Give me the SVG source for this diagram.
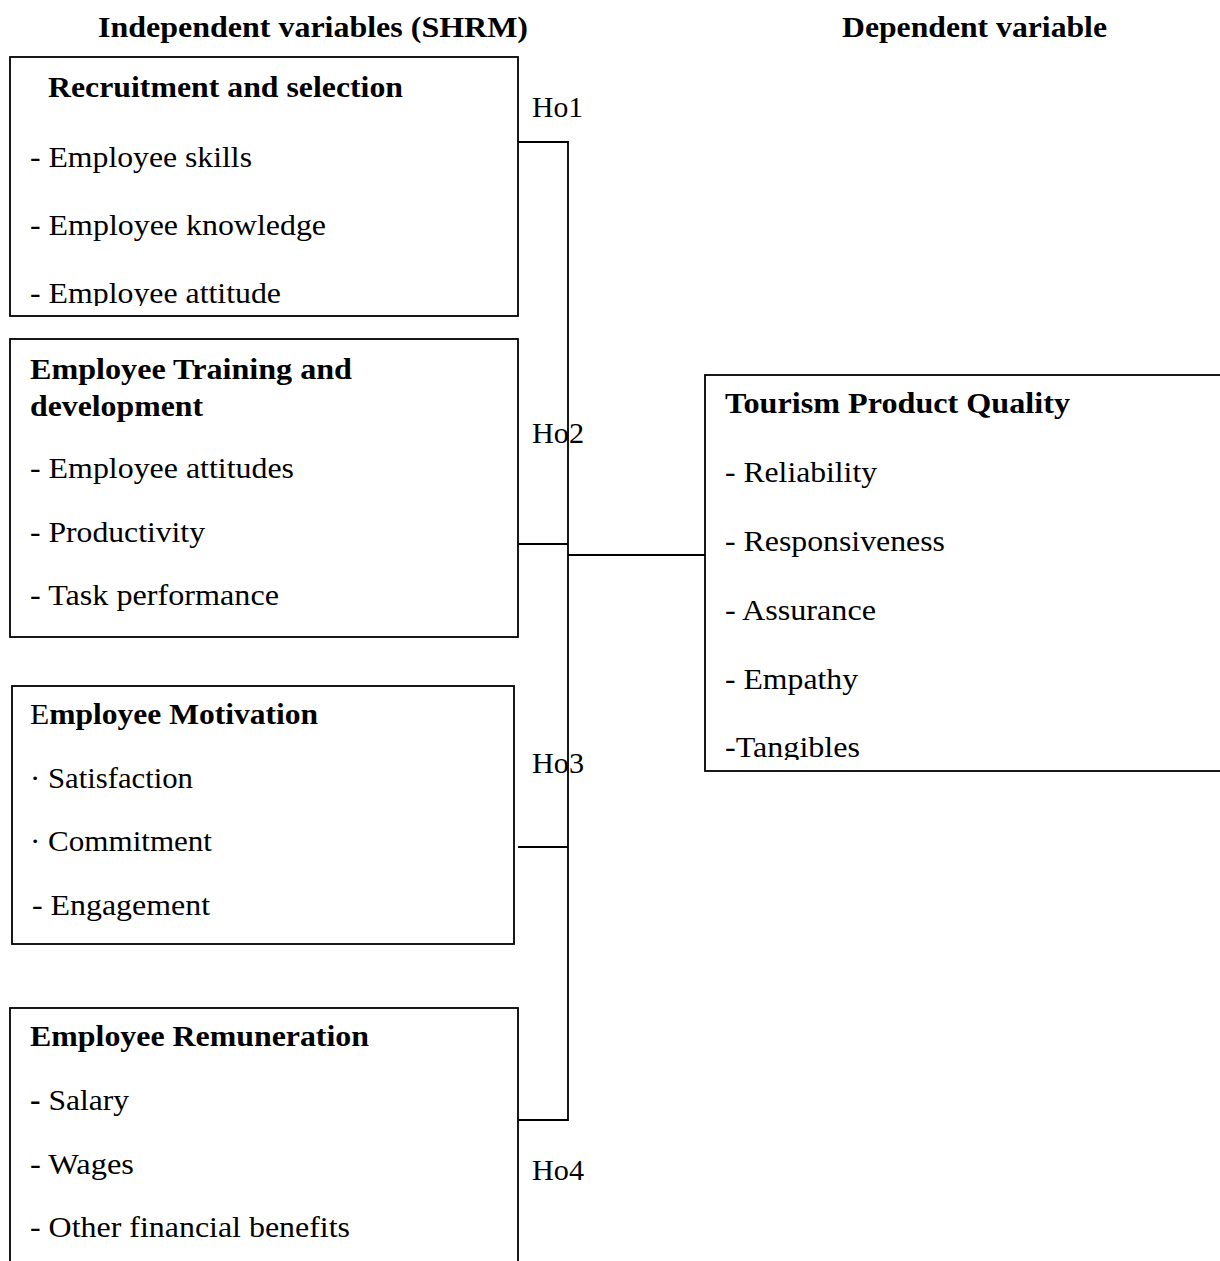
<svg xmlns="http://www.w3.org/2000/svg" width="1220" height="1261" viewBox="0 0 1220 1261">
<style>
text{font-family:"Liberation Serif","Times New Roman",serif;font-size:30px;fill:#000}
.b{font-weight:bold}
.box{fill:#fff;stroke:#000;stroke-width:1.8}
.ln{stroke:#000;stroke-width:1.8;fill:none}
</style>
<defs>
<clipPath id="c1"><rect x="0" y="0" width="1220" height="306"/></clipPath>
<clipPath id="c5"><rect x="0" y="0" width="1220" height="760"/></clipPath>
</defs>
<rect width="1220" height="1261" fill="#fff"/>
<g id="titles">
<text class="b" x="98" y="37" textLength="430" lengthAdjust="spacingAndGlyphs">Independent variables (SHRM)</text>
<text class="b" x="842" y="37" textLength="265" lengthAdjust="spacingAndGlyphs">Dependent variable</text>
</g>
<g id="connectors">
<polyline class="ln" points="518,142 568,142 568,1120 518,1120"/>
<line class="ln" x1="518" y1="544" x2="568" y2="544"/>
<line class="ln" x1="518" y1="847" x2="568" y2="847"/>
<line class="ln" x1="568" y1="555" x2="705" y2="555"/>
<text x="532" y="117" textLength="51" lengthAdjust="spacingAndGlyphs">Ho1</text>
<text x="532" y="443" textLength="52" lengthAdjust="spacingAndGlyphs">Ho2</text>
<text x="532" y="773" textLength="52" lengthAdjust="spacingAndGlyphs">Ho3</text>
<text x="532" y="1180" textLength="52" lengthAdjust="spacingAndGlyphs">Ho4</text>
</g>
<g id="node-recruitment">
<rect class="box" x="10" y="57" width="508" height="259"/>
<text class="b" x="48" y="97" textLength="355" lengthAdjust="spacingAndGlyphs">Recruitment and selection</text>
<text x="30" y="166.5" textLength="222" lengthAdjust="spacingAndGlyphs">- Employee skills</text>
<text x="30" y="235" textLength="296" lengthAdjust="spacingAndGlyphs">- Employee knowledge</text>
<text x="30" y="303" textLength="251" lengthAdjust="spacingAndGlyphs" clip-path="url(#c1)">- Employee attitude</text>
</g>
<g id="node-training">
<rect class="box" x="10" y="339" width="508" height="298"/>
<text class="b" x="30" y="379" textLength="322" lengthAdjust="spacingAndGlyphs">Employee Training and</text>
<text class="b" x="30" y="416" textLength="173" lengthAdjust="spacingAndGlyphs">development</text>
<text x="30" y="478" textLength="264" lengthAdjust="spacingAndGlyphs">- Employee attitudes</text>
<text x="30" y="542" textLength="175" lengthAdjust="spacingAndGlyphs">- Productivity</text>
<text x="30" y="605" textLength="249" lengthAdjust="spacingAndGlyphs">- Task performance</text>
</g>
<g id="node-motivation">
<rect class="box" x="12" y="686" width="502" height="258"/>
<text class="b" x="30" y="724" textLength="288" lengthAdjust="spacingAndGlyphs"><tspan font-weight="normal">E</tspan>mployee Motivation</text>
<text x="30" y="788" textLength="163" lengthAdjust="spacingAndGlyphs">· Satisfaction</text>
<text x="30" y="851" textLength="182" lengthAdjust="spacingAndGlyphs">· Commitment</text>
<text x="32" y="915" textLength="178" lengthAdjust="spacingAndGlyphs">- Engagement</text>
</g>
<g id="node-remuneration">
<rect class="box" x="10" y="1008" width="508" height="270"/>
<text class="b" x="30" y="1046" textLength="339" lengthAdjust="spacingAndGlyphs">Employee Remuneration</text>
<text x="30" y="1110" textLength="99" lengthAdjust="spacingAndGlyphs"><tspan font-weight="bold">-</tspan> Salary</text>
<text x="30" y="1174" textLength="104" lengthAdjust="spacingAndGlyphs">- Wages</text>
<text x="30" y="1237" textLength="320" lengthAdjust="spacingAndGlyphs">- Other financial benefits</text>
</g>
<g id="node-quality">
<rect class="box" x="705" y="375" width="530" height="396"/>
<text class="b" x="725" y="413" textLength="345" lengthAdjust="spacingAndGlyphs">Tourism Product Quality</text>
<text x="725" y="482" textLength="152" lengthAdjust="spacingAndGlyphs">- Reliability</text>
<text x="725" y="551" textLength="220" lengthAdjust="spacingAndGlyphs">- Responsiveness</text>
<text x="725" y="620" textLength="151" lengthAdjust="spacingAndGlyphs">- Assurance</text>
<text x="725" y="689" textLength="133" lengthAdjust="spacingAndGlyphs">- Empathy</text>
<text x="725" y="757" textLength="135" lengthAdjust="spacingAndGlyphs" clip-path="url(#c5)">-Tangibles</text>
</g>
</svg>
